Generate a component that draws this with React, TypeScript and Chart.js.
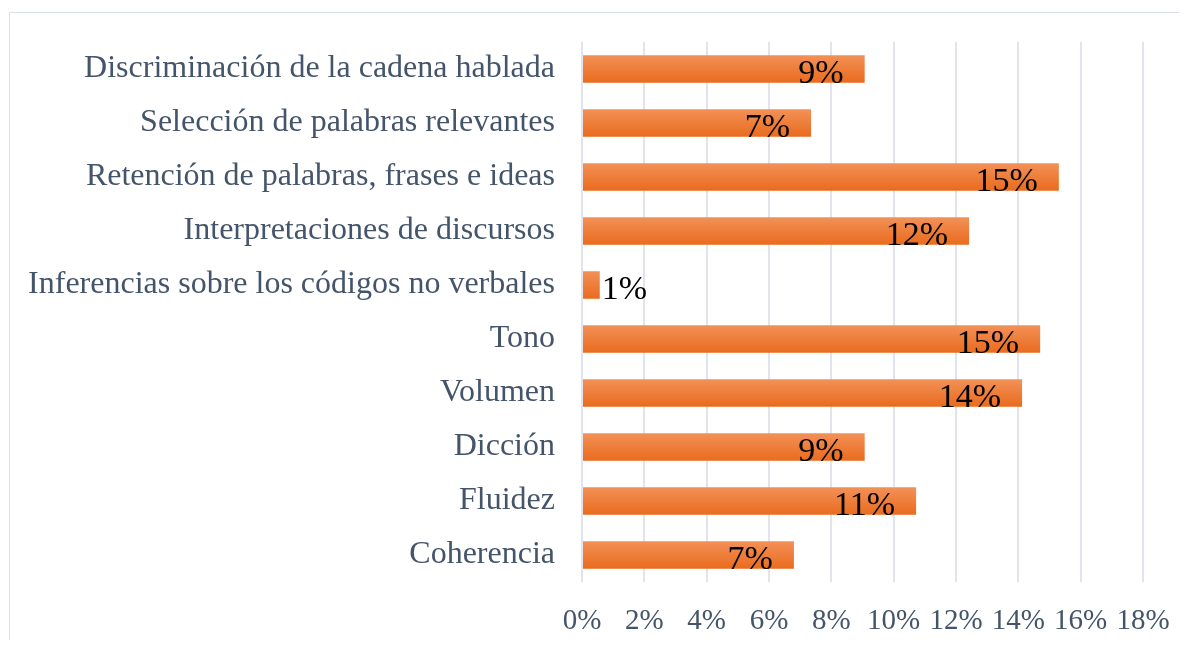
import React, { useEffect, useRef } from 'react';
import { Chart, registerables } from 'chart.js';

Chart.register(...registerables);

const categories = [
  'Discriminación de la cadena hablada',
  'Selección de palabras relevantes',
  'Retención de palabras, frases e ideas',
  'Interpretaciones de discursos',
  'Inferencias sobre los códigos no verbales',
  'Tono',
  'Volumen',
  'Dicción',
  'Fluidez',
  'Coherencia',
];
const values = [9.07, 7.35, 15.3, 12.42, 0.57, 14.7, 14.12, 9.07, 10.72, 6.8];
const xTicks = [0, 2, 4, 6, 8, 10, 12, 14, 16, 18];

const FONT = '"Liberation Serif", "Times New Roman", serif';
const TEXT = '#44546a';

const labelPlugin = {
  id: 'barLabels',
  afterDatasetsDraw(chart: any) {
    const ctx = chart.ctx;
    const meta = chart.getDatasetMeta(0);
    ctx.save();
    ctx.font = `34px ${FONT}`;
    ctx.fillStyle = '#000000';
    ctx.textBaseline = 'alphabetic';
    meta.data.forEach((bar: any, i: number) => {
      const text = Math.round(values[i]) + '%';
      const w = ctx.measureText(text).width;
      const { x, y, base } = bar.getProps(['x', 'y', 'base'], true);
      if (x - base >= w + 25) {
        ctx.textAlign = 'right';
        ctx.fillText(text, x - 21, y + 14);
      } else {
        ctx.textAlign = 'left';
        ctx.fillText(text, x + 2, y + 14);
      }
    });
    ctx.restore();
  },
};

const zeroPad = (s: any) => {
  s.paddingTop = 0;
  s.paddingBottom = 0;
  s.paddingLeft = 0;
  s.paddingRight = 0;
};

export default function App() {
  const ref = useRef<HTMLCanvasElement>(null);
  useEffect(() => {
    document.body.style.overflow = 'hidden';
    const chart = new Chart(ref.current as HTMLCanvasElement, {
      type: 'bar',
      data: {
        labels: categories,
        datasets: [
          {
            data: values,
            backgroundColor: (c: any) => {
              const yScale = c.chart.scales && c.chart.scales.y;
              if (!yScale || c.dataIndex == null) return '#ed7d31';
              const cy = yScale.getPixelForValue(c.dataIndex);
              if (!isFinite(cy)) return '#ed7d31';
              const g = c.chart.ctx.createLinearGradient(0, cy - 14, 0, cy + 14);
              g.addColorStop(0, '#f39158');
              g.addColorStop(1, '#e96b1d');
              return g;
            },
            borderWidth: 0,
            barPercentage: 0.51,
            categoryPercentage: 1,
          },
        ],
      },
      options: {
        indexAxis: 'y',
        responsive: false,
        maintainAspectRatio: false,
        animation: false,
        layout: { padding: { top: 34, right: 36, left: 0, bottom: 0 } },
        plugins: { legend: { display: false }, tooltip: { enabled: false } },
        scales: {
          x: {
            min: 0,
            max: 18,
            afterBuildTicks: (s: any) => {
              s.ticks = xTicks.map((v) => ({ value: v }));
            },
            ticks: {
              callback: (v: any) => v + '%',
              color: TEXT,
              font: { family: FONT, size: 29 },
              padding: 22,
              autoSkip: false,
              maxRotation: 0,
            },
            grid: { color: '#e1e5eb', lineWidth: 2, drawTicks: false },
            border: { display: false },
            afterFit: (s: any) => {
              s.height = 58;
              zeroPad(s);
            },
          },
          y: {
            ticks: {
              color: TEXT,
              font: { family: FONT, size: 32 },
              padding: 27,
              autoSkip: false,
            },
            grid: { display: false, drawTicks: false },
            border: { display: false },
            afterFit: (s: any) => {
              s.width = 574;
              zeroPad(s);
            },
          },
        },
      },
      plugins: [labelPlugin],
    } as any);
    return () => chart.destroy();
  }, []);

  return (
    <div style={{ position: 'relative', width: 1171, height: 632, overflow: 'hidden' }}>
      <div
        style={{
          position: 'absolute',
          left: 1,
          top: 4,
          width: 1400,
          height: 900,
          border: '1.5px solid #dce1e8',
        }}
      />
      <canvas
        ref={ref}
        width={1171}
        height={632}
        style={{ position: 'absolute', left: 0, top: 0 }}
      />
    </div>
  );
}
